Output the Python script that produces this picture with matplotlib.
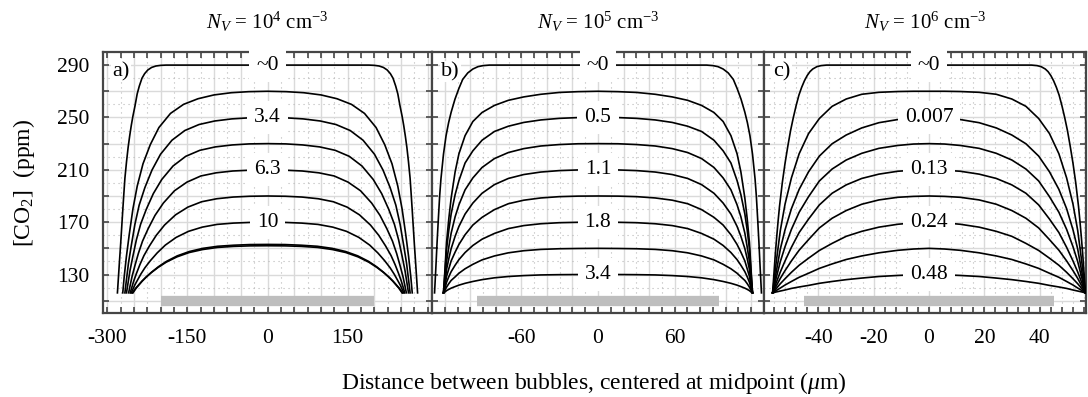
import numpy as np
import matplotlib.pyplot as plt
from matplotlib.ticker import MultipleLocator, FuncFormatter

plt.rcParams['font.family'] = ['Liberation Serif', 'DejaVu Serif']
plt.rcParams['mathtext.fontset'] = 'custom'
plt.rcParams['mathtext.rm'] = 'Liberation Serif'
plt.rcParams['mathtext.it'] = 'Liberation Serif:italic'

# ---- profiles: left half of each curve (x in um, CO2 in ppm),
#      the right half is the mirror image ----
# panel a, N_V = 1e4 cm-3
a_x = [
    [-281, -279, -277, -275, -273, -271, -269, -267, -264, -261, -258, -255, -252, -248,
     -244, -240, -235, -230, -224, -217, -209, -200, -190, 0],
    [-271, -268.3, -264.2, -258.8, -252, -243.9, -233.1, -219.5, -203.3, -181.6, -157.2, -130.1, -100.3, -67.8, -35.2, 0],
    [-267, -264.3, -260.3, -255, -248.3, -240.3, -229.6, -216.3, -200.3, -178.9, -154.9, -128.2, -98.8, -66.8, -34.7, 0],
    [-264, -261.4, -257.4, -252.1, -245.5, -237.6, -227, -213.8, -198, -176.9, -153.1, -126.7, -97.7, -66, -34.3, 0],
    [-260, -257.4, -253.5, -248.3, -241.8, -234, -223.6, -210.6, -195, -174.2, -150.8, -124.8, -96.2, -65, -33.8, 0],
    [-257, -254.4, -250.6, -245.4, -239, -231.3, -221, -208.2, -192.8, -172.2, -149.1, -123.4, -95.1, -64.3, -33.4, 0],
    [-255, -252.5, -248.6, -243.5, -237.2, -229.5, -219.3, -206.6, -191.3, -170.9, -147.9, -122.4, -94.4, -63.8, -33.2, 0],
    [-252, -249.5, -245.7, -240.7, -234.4, -226.8, -216.7, -204.1, -189, -168.8, -146.2, -121, -93.2, -63, -32.8, 0],
    [-253, -250.5, -246.7, -241.6, -235.3, -227.7, -217.6, -204.9, -189.8, -169.5, -146.7, -121.4, -93.6, -63.3, -32.9, 0],
]
a_y = [
    [116, 128.5, 141, 153, 166, 179, 191.5, 203.5, 216, 227, 236, 244, 251, 259,
     268, 274, 280, 283.5, 286.3, 288.2, 289.3, 289.8, 290, 290],
    [116, 128.3, 143.7, 160.7, 180.1, 197.6, 214.6, 229.2, 242.3, 253.1, 260, 264.3, 267.2, 268.9, 269.7, 270],
    [116, 125.4, 138.8, 152.2, 168.3, 183, 196.4, 209.8, 221.9, 232.6, 240, 244.6, 247.3, 248.9, 249.7, 250],
    [116, 122.8, 133.1, 143.9, 156.5, 168.4, 179.8, 191.8, 202.6, 212.9, 220.3, 224.9, 227.5, 229, 229.8, 230],
    [116, 121.2, 128.7, 136.7, 146.1, 155.5, 164.9, 175.2, 184.6, 194, 200.6, 205.3, 207.7, 209.1, 209.7, 210],
    [116, 119.7, 124.9, 130.8, 137.5, 144.5, 151.9, 160, 167.8, 175.6, 181.5, 185.6, 187.9, 189.2, 189.8, 190],
    [116, 118.4, 121.9, 125.7, 130.3, 135.2, 140.6, 146.5, 152.5, 158.4, 163, 166.2, 168.3, 169.3, 169.8, 170],
    [116, 117.5, 119.7, 122.1, 125.1, 128.2, 131.9, 136, 140.1, 144.3, 147.6, 150, 151.6, 152.4, 152.9, 153],
    [116, 117.4, 119.6, 121.9, 124.8, 127.9, 131.5, 135.4, 139.4, 143.5, 146.8, 149.1, 150.7, 151.5, 151.9, 152],
]

# panel b, N_V = 1e5 cm-3
b_x0 = [-128, -127, -126, -125, -124, -123, -121, -119, -117, -115, -112, -109, -106, -102, -98, -94, -90, -85, 0]
b_xs = [-121, -119.8, -118.6, -116.8, -115, -111.9, -108.9, -104.1, -98, -90.8, -81.1, -70.2, -58.1, -44.8, -30.3, -15.7, 0]
b_x = [b_x0] + [b_xs] * 8
b_y = [
    [116, 135, 155, 173, 190, 203, 222, 236, 246, 254, 264, 272, 279, 284, 287, 288.8, 289.6, 290, 290],
    [116, 134.5, 154.5, 173, 188.4, 208.4, 222.3, 236.1, 246.9, 253.8, 259.2, 263.1, 265.7, 267.7, 269.1, 269.7, 270],
    [116, 132.1, 149.5, 164.2, 176.3, 191, 201.8, 215.2, 224.5, 232.6, 239.3, 243.3, 246.2, 248.1, 249.3, 249.9, 250],
    [116, 127.4, 139.9, 151.3, 161.6, 174.1, 183.3, 194.7, 203.8, 211.8, 218.6, 223.2, 226.2, 228.2, 229.3, 229.9, 230],
    [116, 124.5, 133.9, 142.3, 149.8, 159.2, 166.8, 176.2, 184.6, 192.1, 198.7, 203.4, 206.4, 208.3, 209.4, 209.9, 210],
    [116, 121.9, 128.6, 134.5, 140.4, 147.1, 153, 160.4, 167.8, 173.7, 179.6, 184.1, 186.8, 188.5, 189.5, 189.9, 190],
    [116, 119.8, 124.1, 128.4, 132.2, 137.1, 141.4, 146.8, 152.2, 157, 161.4, 165.1, 167.4, 168.8, 169.6, 169.9, 170],
    [116, 118, 120.4, 123.1, 125.5, 128.2, 131, 134.4, 137.8, 141.2, 144.2, 146.6, 148.2, 149.2, 149.7, 149.9, 150],
    [116, 116.7, 117.7, 118.7, 119.6, 120.8, 121.9, 123.3, 124.7, 126.1, 127.5, 128.5, 129.2, 129.7, 129.9, 130, 130],
]

# panel c, N_V = 1e6 cm-3
c_x0 = [-56.5, -56, -55.5, -55, -54.5, -54, -53, -52, -51, -50, -49, -48, -47, -46, -45,
        -44, -43, -42, -40.5, -39, -37, 0]
c_xs = [-56.5, -55.4, -53.7, -52, -49.7, -46.9, -43.5, -39.6, -35, -29.9, -24.3, -18.1, -11.3, -5.6, 0]
c_x = [c_x0] + [c_xs] * 8
c_y = [
    [116, 131, 146, 159, 171, 182, 200, 215, 228, 240, 250, 259, 267, 273, 278,
     282, 285, 287, 288.8, 289.6, 290, 290],
    [116, 136, 163.7, 183.8, 203.8, 222.3, 237.7, 249.2, 258.5, 264.1, 267.7, 269.2, 269.8, 270, 270],
    [116, 129.4, 149.5, 164.2, 180.3, 195.1, 208.5, 220.5, 229.9, 236.6, 242, 246, 248.4, 249.6, 250],
    [116, 125.7, 139.9, 151.3, 164.5, 177.6, 189.5, 201.5, 210.6, 217.5, 222.6, 226.4, 228.6, 229.7, 230],
    [116, 122.6, 132, 140.4, 150.8, 162.1, 172.4, 183.2, 192.1, 198.5, 203.4, 206.7, 208.9, 209.7, 210],
    [116, 120.4, 127.1, 133, 140.4, 148.6, 156.7, 165.6, 173, 178.9, 183.7, 187, 189, 189.7, 190],
    [116, 118.7, 123, 126.8, 131.7, 137.1, 142.5, 148.4, 153.8, 159.2, 163, 166.2, 168.4, 169.5, 170],
    [116, 117.5, 119.7, 122, 124.7, 127.9, 131, 134.7, 138.1, 141.5, 144.2, 146.6, 148.5, 149.5, 150],
    [116, 116.6, 117.4, 118.2, 119.4, 120.5, 121.7, 123.3, 124.7, 126.1, 127.3, 128.5, 129.3, 129.8, 130],
]

curve_labels = [
    {290: '~0', 250: '3.4', 210: '6.3', 170: '10'},
    {290: '~0', 250: '0.5', 210: '1.1', 170: '1.8', 130: '3.4'},
    {290: '~0', 250: '0.007', 210: '0.13', 170: '0.24', 130: '0.48'},
]
titles = [r'$N_V$ = 10$^4$ cm$^{-3}$', r'$N_V$ = 10$^5$ cm$^{-3}$', r'$N_V$ = 10$^6$ cm$^{-3}$']
panel_tags = ['a)', 'b)', 'c)']
bar_half = [200, 95, 45]
bar_level = 110
x_labels = [[-300, -150, 0, 150], [-60, 0, 60], [-40, -20, 0, 20, 40]]
y_labels = [130, 170, 210, 250, 290]

# ---- layout (pixels of the 1088x397 canvas) ----
W, H = 1088, 397
lefts = [103, 432, 764]
rights = [432, 764, 1086]
top, bot = 52, 312.5
xlims = [(-308, 308), (-130, 130), (-59.6, 56.7)]
xgrid = [(50, 25), (20, 10), (20, 4)]
spine_col = '#454545'

fig = plt.figure(figsize=(W / 100, H / 100), dpi=100)

panels = [(a_x, a_y), (b_x, b_y), (c_x, c_y)]
for i, (px, py) in enumerate(panels):
    ax = fig.add_axes([lefts[i] / W, 1 - bot / H, (rights[i] - lefts[i]) / W, (bot - top) / H])
    for xs, ys in zip(px, py):
        xs = np.asarray(xs, float)
        ys = np.asarray(ys, float)
        x = np.concatenate([xs, -xs[-2::-1]])
        y = np.concatenate([ys, ys[-2::-1]])
        ax.plot(x, y, color='black', lw=1.2, zorder=3)

    for lev, txt in curve_labels[i].items():
        ax.text(0, lev, txt, ha='center', va='center', fontsize=15.5, zorder=4,
                bbox=dict(boxstyle='square,pad=0.33', fc='white', ec='none'))

    ax.hlines(bar_level, -bar_half[i], bar_half[i], color='#bebebe', lw=7.4, zorder=2)

    ax.set_xlim(*xlims[i])
    ax.set_ylim(101, 300)
    ax.xaxis.set_major_locator(MultipleLocator(xgrid[i][0]))
    ax.xaxis.set_minor_locator(MultipleLocator(xgrid[i][1]))
    ax.yaxis.set_major_locator(MultipleLocator(20, offset=10))
    ax.yaxis.set_minor_locator(MultipleLocator(10))
    xl = x_labels[i]
    ax.xaxis.set_major_formatter(FuncFormatter(lambda v, p, xl=xl: f'{v:g}' if any(abs(v - l) < 1e-6 for l in xl) else ''))
    ax.yaxis.set_major_formatter(FuncFormatter(lambda v, p: f'{v:g}' if any(abs(v - l) < 1e-6 for l in y_labels) else ''))

    ax.set_axisbelow(True)
    ax.grid(which='major', color='#dadada', lw=1.0, ls='-')
    ax.grid(which='minor', color='#b8b8b8', lw=0.8, ls=(0, (1, 3.5)))

    ax.tick_params(which='both', direction='in', top=True, right=True, length=4,
                   width=1.2, color=spine_col, labelsize=15.5)
    ax.tick_params(axis='y', which='minor', length=0)
    ax.tick_params(axis='x', pad=12)
    ax.tick_params(axis='y', pad=10)
    if i > 0:
        ax.tick_params(labelleft=False)
    for s in ax.spines.values():
        s.set_color(spine_col)
        s.set_linewidth(1.6)

    ax.text(0.028, 0.925, panel_tags[i], transform=ax.transAxes, ha='left', va='center',
            fontsize=16, zorder=5, bbox=dict(boxstyle='square,pad=0.05', fc='white', ec='none'))
    fig.text((lefts[i] + rights[i]) / 2 / W, 1 - 22 / H, titles[i], ha='center', va='center', fontsize=15)

fig.text(24 / W, 1 - 183 / H, '[CO$_2$]  (ppm)', rotation=90, ha='center', va='center', fontsize=17)
fig.text(594 / W, 1 - 383 / H, r'Distance between bubbles, centered at midpoint ($\mu$m)',
         ha='center', va='center', fontsize=17)

fig.savefig('out.png', dpi=100)
